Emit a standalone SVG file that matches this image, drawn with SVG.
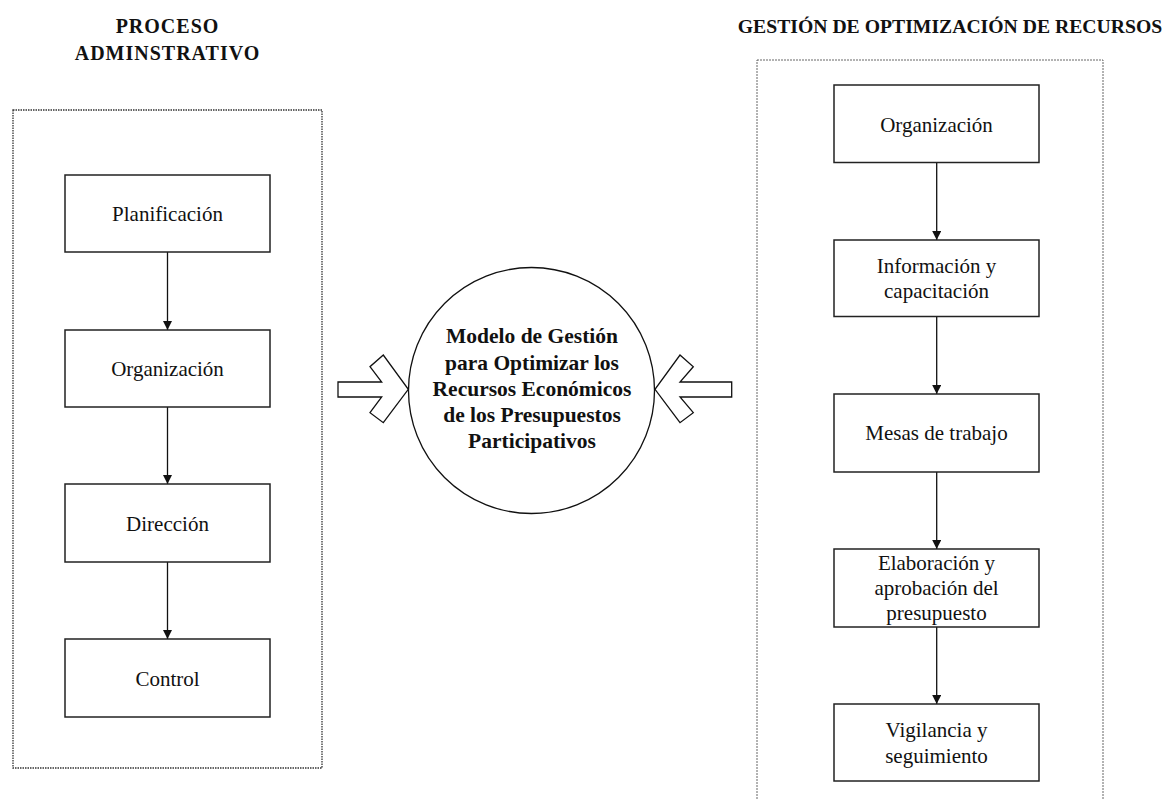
<svg xmlns="http://www.w3.org/2000/svg" width="1165" height="800" viewBox="0 0 1165 800" font-family="'Liberation Serif', 'Times New Roman', serif">
<style>
.frameL{fill:none;stroke:#333;stroke-width:1.3;stroke-dasharray:1.5 1}
.frameR{fill:none;stroke:#666;stroke-width:1;stroke-dasharray:2 1}
.box{fill:#fff;stroke:#222;stroke-width:1.5}
.edge{stroke:#111;stroke-width:1.3;fill:none;marker-end:url(#ah)}
.blk{fill:#fff;stroke:#111;stroke-width:1.3;stroke-linejoin:miter}
</style>
<defs>
<marker id="ah" viewBox="0 0 10 10" refX="10" refY="5" markerWidth="9" markerHeight="9" markerUnits="userSpaceOnUse" orient="auto">
<path d="M0,0 L10,5 L0,10 Z" fill="#111"/>
</marker>
</defs>
<rect x="0" y="0" width="1165" height="800" fill="#fff"/>

<g id="title-left" font-family="'Liberation Serif', serif" font-size="20" font-weight="bold" fill="#111" text-anchor="middle">
<text x="167.5" y="33" letter-spacing="1">PROCESO</text>
<text x="167.5" y="60" letter-spacing="1">ADMINSTRATIVO</text>
</g>
<g id="title-right" font-family="'Liberation Serif', serif" font-size="19.7" font-weight="bold" fill="#111" text-anchor="middle">
<text x="950" y="33">GESTIÓN DE OPTIMIZACIÓN DE RECURSOS</text>
</g>

<g id="frame-left"><rect class="frameL" x="13" y="110" width="309" height="658"/></g>
<g id="frame-right"><rect class="frameR" x="757" y="60" width="346" height="760"/></g>

<g id="connectors">
<line class="edge" x1="167.5" y1="252" x2="167.5" y2="330"/>
<line class="edge" x1="167.5" y1="407" x2="167.5" y2="484"/>
<line class="edge" x1="167.5" y1="562" x2="167.5" y2="639"/>
<line class="edge" x1="936.7" y1="162.5" x2="936.7" y2="240"/>
<line class="edge" x1="936.7" y1="316.5" x2="936.7" y2="394"/>
<line class="edge" x1="936.7" y1="472" x2="936.7" y2="549"/>
<line class="edge" x1="936.7" y1="627" x2="936.7" y2="704"/>
<polygon id="arrow-left" class="blk" points="338,382 381.7,382 370,366.7 383.3,355 408.3,389.3 383.3,422.7 370,412.7 381.7,397 338,397"/>
<polygon id="arrow-right" class="blk" points="731.7,382 680,382 693.3,366.7 680,355 655,389.3 680,422.7 693.3,412.7 680,397 731.7,397"/>
</g>

<g font-family="'Liberation Serif', serif" font-size="21" fill="#111" text-anchor="middle">
<g id="n-planificacion"><rect class="box" x="65" y="175" width="205" height="77"/><text x="167.5" y="221">Planificación</text></g>
<g id="n-organizacion-l"><rect class="box" x="65" y="330" width="205" height="77"/><text x="167.5" y="376">Organización</text></g>
<g id="n-direccion"><rect class="box" x="65" y="484" width="205" height="78"/><text x="167.5" y="531">Dirección</text></g>
<g id="n-control"><rect class="box" x="65" y="639" width="205" height="78"/><text x="167.5" y="686">Control</text></g>

<g id="n-organizacion-r"><rect class="box" x="834" y="85" width="205" height="77.5"/><text x="936.5" y="131.5">Organización</text></g>
<g id="n-informacion"><rect class="box" x="834" y="240" width="205" height="76.5"/><text x="936.5" y="273">Información y</text><text x="936.5" y="298">capacitación</text></g>
<g id="n-mesas"><rect class="box" x="834" y="394" width="205" height="78"/><text x="936.5" y="440">Mesas de trabajo</text></g>
<g id="n-elaboracion"><rect class="box" x="834" y="549" width="205" height="78"/><text x="936.5" y="570">Elaboración y</text><text x="936.5" y="595">aprobación del</text><text x="936.5" y="620">presupuesto</text></g>
<g id="n-vigilancia"><rect class="box" x="834" y="704" width="205" height="77"/><text x="936.5" y="737">Vigilancia y</text><text x="936.5" y="763">seguimiento</text></g>
</g>

<g id="n-modelo" font-family="'Liberation Serif', serif" font-size="21.5" font-weight="bold" fill="#111" text-anchor="middle">
<circle cx="531.5" cy="390.5" r="123" fill="#fff" stroke="#111" stroke-width="1.3"/>
<text x="532" y="343">Modelo de Gestión</text>
<text x="532" y="370">para Optimizar los</text>
<text x="532" y="396">Recursos Económicos</text>
<text x="532" y="422">de los Presupuestos</text>
<text x="532" y="448">Participativos</text>
</g>
</svg>
